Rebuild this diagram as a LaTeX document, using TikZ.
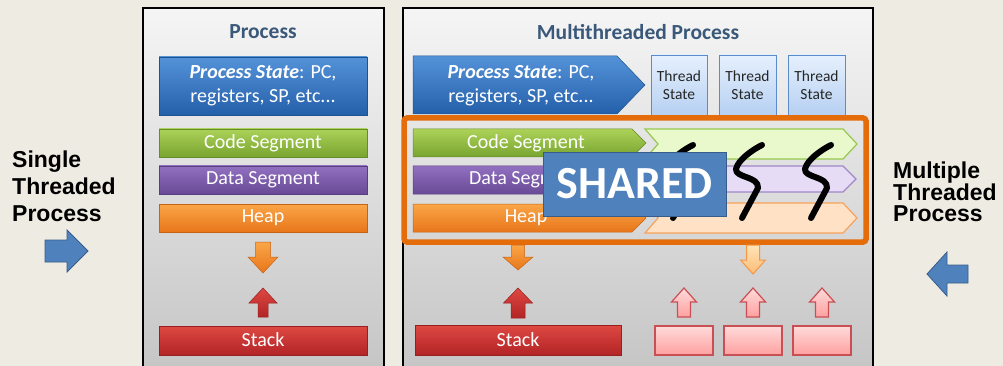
\documentclass[tikz,border=0pt]{standalone}
\usepackage{fontspec}
\newfontfamily\calib{Carlito}
\newfontfamily\arialf{Liberation Sans}

\definecolor{bgcol}{RGB}{238,235,226}
\definecolor{panelTop}{RGB}{245,245,245}
\definecolor{panelBot}{RGB}{196,196,196}
\definecolor{titleBlue}{RGB}{58,88,122}
\definecolor{stateTop}{RGB}{84,146,216}
\definecolor{stateBot}{RGB}{36,96,170}
\definecolor{codeTop}{RGB}{172,210,88}
\definecolor{codeBot}{RGB}{120,164,48}
\definecolor{dataTop}{RGB}{146,112,192}
\definecolor{dataBot}{RGB}{104,74,150}
\definecolor{heapTop}{RGB}{250,166,72}
\definecolor{heapBot}{RGB}{232,118,26}
\definecolor{stackTop}{RGB}{222,72,66}
\definecolor{stackBot}{RGB}{178,36,38}
\definecolor{codeLite}{RGB}{234,249,204}
\definecolor{codeLine}{RGB}{150,200,80}
\definecolor{dataLite}{RGB}{230,220,245}
\definecolor{dataLine}{RGB}{160,135,200}
\definecolor{heapLite}{RGB}{255,226,198}
\definecolor{heapLine}{RGB}{246,162,92}
\definecolor{threadTop}{RGB}{230,240,253}
\definecolor{threadBot}{RGB}{182,208,242}
\definecolor{threadLine}{RGB}{90,140,205}
\definecolor{frameOrange}{RGB}{228,108,10}
\definecolor{sharedFill}{RGB}{79,129,189}
\definecolor{sharedLine}{RGB}{56,93,138}
\definecolor{pinkTop}{RGB}{255,218,218}
\definecolor{pinkBot}{RGB}{255,160,160}
\definecolor{pinkLine}{RGB}{200,80,85}
\definecolor{litOrTop}{RGB}{255,228,184}
\definecolor{litOrBot}{RGB}{252,188,118}
\definecolor{litOrLine}{RGB}{245,150,70}

% vertical block arrow: style, x, shaft end, head base, tip, half shaft, half head
\newcommand{\vblock}[7]{\draw[#1] ({#2-#6},#3) -- ({#2+#6},#3) -- ({#2+#6},#4) -- ({#2+#7},#4) -- (#2,#5) -- ({#2-#7},#4) -- ({#2-#6},#4) -- cycle;}
% horizontal block arrow: style, y, shaft end, head base, tip, half shaft, half head
\newcommand{\hblock}[7]{\draw[#1] (#3,{#2-#6}) -- (#4,{#2-#6}) -- (#4,{#2-#7}) -- (#5,#2) -- (#4,{#2+#7}) -- (#4,{#2+#6}) -- (#3,{#2+#6}) -- cycle;}

\tikzset{
  panel/.style={draw=black, line width=2pt, top color=panelTop, bottom color=panelBot},
  seg/.style={draw=#1Bot!85!black, line width=0.5pt, top color=#1Top, bottom color=#1Bot},
  lite/.style={draw=#1Line, line width=1.2pt, fill=#1Lite},
  segtext/.style={text=white, font=\calib\fontsize{20}{24}\selectfont, align=center, inner sep=0pt},
  paneltitle/.style={text=titleBlue, font=\calib\bfseries\fontsize{21.5}{24}\selectfont},
  threadbox/.style={draw=threadLine, line width=0.8pt, top color=threadTop, bottom color=threadBot},
  threadtext/.style={text=black!85, font=\calib\fontsize{15.5}{18}\selectfont, align=center, inner sep=0pt},
  thread/.style={line width=6pt, line cap=round, line join=round},
  sidetext/.style={font=\arialf\bfseries\fontsize{23}{27}\selectfont, align=left, inner sep=0pt},
  bluearrow/.style={fill=sharedFill, draw=sharedLine, line width=0.8pt},
  pinkbox/.style={draw=pinkLine, line width=1.2pt, top color=pinkTop, bottom color=pinkBot},
}

\begin{document}
\begin{tikzpicture}[x=1pt, y=-1pt]
      \useasboundingbox (0,0) rectangle (1003,366);
      \fill[bgcol] (0,0) rectangle (1003,366);

      % Panels
      \draw[panel] (143,8) rectangle (384,380);
      \draw[panel] (403,8) rectangle (873,380);
      \node[paneltitle] (ptitle) at (263,32) {Process};
      \node[paneltitle] (mtitle) at (638,32) {Multithreaded Process};

      % Single threaded process
      \draw[seg=state] (159,57) rectangle (367,115);
      \draw[seg=code] (159,129) rectangle (367,157);
      \draw[seg=data] (159,166) rectangle (367,194);
      \draw[seg=heap] (159,204) rectangle (367,232);
      \draw[seg=stack] (159,326) rectangle (367,355);
      \node[segtext] (pstate) at (263,86) {\textbf{\textit{Process State}}: PC,\\registers, SP, etc...};
      \node[segtext] (pcode) at (263,143) {Code Segment};
      \node[segtext] (pdata) at (263,180) {Data Segment};
      \node[segtext] (pheap) at (263,218) {Heap};
      \node[segtext] (pstack) at (263,340) {Stack};
      \vblock{seg=heap}{263}{242}{257}{273}{7.5}{15}
      \vblock{seg=stack}{263}{317}{303}{288}{5}{14}

      % Multithreaded process
      \draw[seg=state] (413,56) -- (617,56) -- (645,85) -- (617,114) -- (413,114) -- cycle;
      \draw[seg=code] (413,129) -- (632,129) -- (646,143) -- (632,157) -- (413,157) -- cycle;
      \draw[seg=data] (413,166) -- (632,166) -- (646,180) -- (632,194) -- (413,194) -- cycle;
      \draw[seg=heap] (413,204) -- (632,204) -- (646,218) -- (632,232) -- (413,232) -- cycle;
      \node[segtext] (mstate) at (521,86) {\textbf{\textit{Process State}}: PC,\\registers, SP, etc...};
      \node[segtext] (mcode) at (526,143) {Code Segment};
      \node[segtext] (mdata) at (526,180) {Data Segment};
      \node[segtext] (mheap) at (526,218) {Heap};

      \draw[threadbox] (651,55) rectangle (707,115);
      \draw[threadbox] (719,55) rectangle (776,115);
      \draw[threadbox] (788,55) rectangle (845,115);
      \node[threadtext] (ts1) at (679,85) {Thread\\State};
      \node[threadtext] (ts2) at (747.5,85) {Thread\\State};
      \node[threadtext] (ts3) at (816.5,85) {Thread\\State};

      \draw[lite=code] (645,129) -- (843,129) -- (857,144) -- (843,159) -- (645,159) -- (658,144) -- cycle;
      \draw[lite=data] (645,166) -- (843,166) -- (856,179) -- (843,192) -- (645,192) -- (658,179) -- cycle;
      \draw[lite=heap] (645,203) -- (843,203) -- (857,218) -- (843,233) -- (645,233) -- (658,218) -- cycle;

      % Threads
      \draw[thread] (693,145) .. controls (683,150) and (669,160) .. (667,169)
                    .. controls (666,178) and (690,176) .. (689,188) -- (673,218);
      \draw[thread] (762,145) .. controls (752,150) and (738,160) .. (736,169)
                    .. controls (735,178) and (759,176) .. (758,188) -- (742,218);
      \draw[thread] (831,145) .. controls (821,150) and (807,160) .. (805,169)
                    .. controls (804,178) and (828,176) .. (827,188) -- (811,218);

      \node[draw=sharedLine, line width=0.8pt, fill=sharedFill, minimum width=183pt, minimum height=64pt,
            text=white, font=\calib\bfseries\fontsize{46}{50}\selectfont] (shared) at (634.5,184) {SHARED};

      \draw[frameOrange, line width=5.5pt, rounded corners=3pt] (404,118) rectangle (866,242);

      \vblock{seg=heap}{518}{245}{257}{270}{6.5}{15}
      \vblock{seg=stack}{518}{318}{303}{288}{7}{14.5}
      \draw[seg=stack] (415,325) rectangle (621,355);
      \node[segtext] (mstack) at (518,340) {Stack};

      \vblock{draw=litOrLine, line width=1pt, top color=litOrTop, bottom color=litOrBot}{753}{245}{260}{274}{6.5}{12.5}
      \vblock{pinkbox}{684}{317}{302}{288}{6.5}{12.5}
      \vblock{pinkbox}{753}{317}{302}{288}{6.5}{12.5}
      \vblock{pinkbox}{822}{317}{302}{288}{6.5}{12.5}
      \draw[pinkbox] (655,326) rectangle (713,355);
      \draw[pinkbox] (724,326) rectangle (782,355);
      \draw[pinkbox] (793,326) rectangle (851,355);

      % Side labels
      \node[sidetext, anchor=north west] (single) at (12,151) {Single\\Threaded\\Process};
      \hblock{bluearrow}{251}{45}{67}{88}{11}{21}
      \node[sidetext, anchor=north west, font=\arialf\bfseries\fontsize{23}{21.5}\selectfont] (multiple) at (893,162) {Multiple\\Threaded\\Process};
      \hblock{bluearrow}{274}{968}{947}{927}{9}{22}
\end{tikzpicture}
\end{document}
